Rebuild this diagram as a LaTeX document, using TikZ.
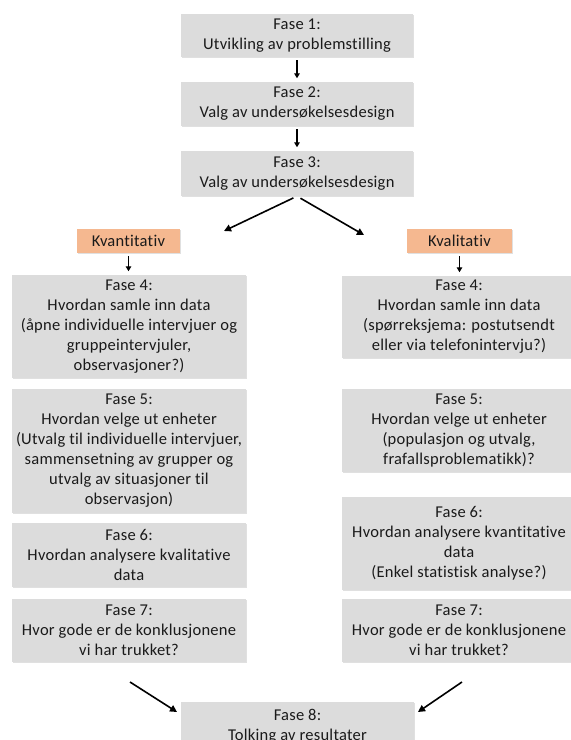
\documentclass[tikz,border=0pt]{standalone}
\usepackage{fontspec}
\setmainfont{Carlito}[Ligatures=NoCommon, LetterSpace=1.5]
\usetikzlibrary{arrows.meta,shadows}
\definecolor{boxgray}{HTML}{DCDCDC}
\definecolor{boxorange}{HTML}{F5B890}
\definecolor{inktext}{HTML}{1A1A1A}
\begin{document}
\begin{tikzpicture}[x=1pt,y=-1pt,
  box/.style={fill=boxgray, align=center, inner sep=0pt, text=inktext,
    font=\fontsize{16.5}{20}\selectfont,
    drop shadow={shadow xshift=1.2pt, shadow yshift=-1.2pt, fill=black, opacity=0.12}},
  tag/.style={box, fill=boxorange, minimum height=24pt},
  arr/.style={-{Triangle[length=7pt,width=7pt]}, line width=1.6pt, black},
  shortarr/.style={-{Triangle[length=5pt,width=5.5pt]}, line width=1.5pt, black,
    shorten <=3pt, shorten >=3.5pt}]
\useasboundingbox (0,0) rectangle (571,740);

% main stem
\node[box, minimum width=232pt, minimum height=43pt] (f1) at (297,35.5)
  {Fase 1:\\Utvikling av problemstilling};
\node[box, minimum width=232pt, minimum height=44pt] (f2) at (297,104)
  {Fase 2:\\Valg av undersøkelsesdesign};
\node[box, minimum width=232pt, minimum height=45pt] (f3) at (297,173.5)
  {Fase 3:\\Valg av undersøkelsesdesign};

% branch labels
\node[tag, minimum width=103pt] (kvant) at (128.5,241) {Kvantitativ};
\node[tag, minimum width=105pt] (kval) at (459.5,241) {Kvalitativ};

% left column
\node[box, minimum width=234pt, minimum height=103pt] (l4) at (129,326.5)
  {Fase 4:\\Hvordan samle inn data\\(åpne individuelle intervjuer og\\gruppeintervjuler,\\observasjoner?)};
\node[box, minimum width=234pt, minimum height=124pt] (l5) at (129,451)
  {Fase 5:\\Hvordan velge ut enheter\\(Utvalg til individuelle intervjuer,\\sammensetning av grupper og\\utvalg av situasjoner til\\observasjon)};
\node[box, minimum width=234pt, minimum height=64pt] (l6) at (129,555)
  {Fase 6:\\Hvordan analysere kvalitative\\data};
\node[box, minimum width=234pt, minimum height=63pt] (l7) at (129,630.5)
  {Fase 7:\\Hvor gode er de konklusjonene\\vi har trukket?};

% right column
\node[box, minimum width=234pt, minimum height=82pt] (r4) at (459,317)
  {Fase 4:\\Hvordan samle inn data\\(spørreksjema: postutsendt\\eller via telefonintervju?)};
\node[box, minimum width=234pt, minimum height=83pt] (r5) at (459,430.5)
  {Fase 5:\\Hvordan velge ut enheter\\(populasjon og utvalg,\\frafallsproblematikk)?};
\node[box, minimum width=234pt, minimum height=93pt] (r6) at (459,543.5)
  {Fase 6:\\Hvordan analysere kvantitative\\data\\(Enkel statistisk analyse?)};
\node[box, minimum width=234pt, minimum height=63pt] (r7) at (459,630.5)
  {Fase 7:\\Hvor gode er de konklusjonene\\vi har trukket?};

% final step
\node[box, minimum width=233pt, minimum height=48pt] (f8) at (297.5,726)
  {Fase 8:\\Tolking av resultater};

% free arrow ends
\coordinate (splitL) at (224,231);
\coordinate (splitR) at (364,235);
\coordinate (joinLs) at (130,682);
\coordinate (joinLe) at (177,712);
\coordinate (joinRs) at (462,682);
\coordinate (joinRe) at (418,712);

% connectors
\draw[shortarr] (f1.south) -- (f2.north);
\draw[shortarr] (f2.south) -- (f3.north);
\draw[arr, shorten <=4pt] (f3.south) -- (splitL);
\draw[arr, shorten <=4pt] (f3.south) -- (splitR);
\draw[shortarr] (kvant.south) -- (kvant.south |- l4.north);
\draw[shortarr] (kval.south) -- (kval.south |- r4.north);
\draw[arr] (joinLs) -- (joinLe);
\draw[arr] (joinRs) -- (joinRe);
\end{tikzpicture}
\end{document}
